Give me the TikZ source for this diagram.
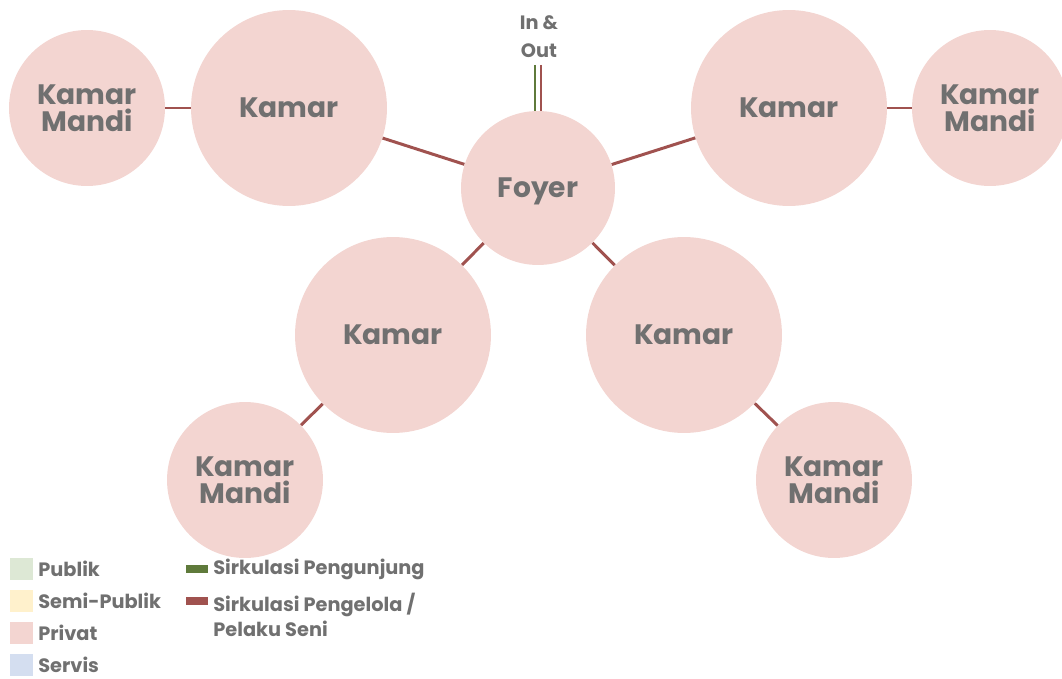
\documentclass[tikz,border=0pt]{standalone}
\usepackage{fontspec}
\setmainfont{Poppins}
\usepackage{tikz}
\definecolor{privat}{HTML}{F3D5D1}
\definecolor{publik}{HTML}{DDE8D5}
\definecolor{semipublik}{HTML}{FFF1CC}
\definecolor{servis}{HTML}{D4DEF0}
\definecolor{teks}{HTML}{707070}
\definecolor{pengelola}{HTML}{A0524F}
\definecolor{pengunjung}{HTML}{5F7A3B}
\tikzset{
  ruang/.style={circle,fill=privat,text=teks,font=\bfseries\fontsize{16}{15.5}\selectfont,align=center,inner sep=0pt},
  kamar/.style={ruang,minimum size=3.92cm},
  kmandi/.style={ruang,minimum size=3.12cm},
  alur/.style={pengelola,line width=1.7pt},
  ket/.style={text=teks,font=\bfseries\fontsize{11}{14}\selectfont,anchor=west,align=left,inner sep=0pt}
}
\begin{document}
\begin{tikzpicture}[x=0.02cm,y=-0.02cm]
\useasboundingbox (0,0) rectangle (1062,679);
% ruang
\node[ruang,minimum size=3.08cm,text depth=0pt] (foyer) at (538,188) {Foyer};
\node[kamar] (kamar1) at (289,108) {Kamar};
\node[kamar] (kamar2) at (789,108) {Kamar};
\node[kamar] (kamar3) at (393,335) {Kamar};
\node[kamar] (kamar4) at (684,335) {Kamar};
\node[kmandi] (km1) at (87,108) {Kamar\\Mandi};
\node[kmandi] (km2) at (990,108) {Kamar\\Mandi};
\node[kmandi] (km3) at (245,480) {Kamar\\Mandi};
\node[kmandi] (km4) at (834,480) {Kamar\\Mandi};
% sirkulasi
\draw[alur] (km1) -- (kamar1);
\draw[alur] (kamar1) -- (foyer);
\draw[alur] (foyer) -- (kamar2);
\draw[alur] (kamar2) -- (km2);
\draw[alur] (foyer) -- (kamar3);
\draw[alur] (foyer) -- (kamar4);
\draw[alur] (kamar3) -- (km3);
\draw[alur] (kamar4) -- (km4);
% in & out
\node[text=teks,font=\bfseries\fontsize{11}{16}\selectfont,align=center,inner sep=0pt] (inout) at (539,37) {In \&\\Out};
\coordinate (masuk) at (538,65);
\draw[pengunjung,line width=1.7pt] ([xshift=-0.06cm]masuk) -- ([xshift=-0.06cm]masuk |- foyer.north);
\draw[alur] ([xshift=0.06cm]masuk) -- ([xshift=0.06cm]masuk |- foyer.north);
% legenda
\foreach \warna/\nama [count=\i, evaluate=\i as \y using 569+32*(\i-1)] in {publik/Publik,semipublik/Semi-Publik,privat/Privat,servis/Servis} {
\node[fill=\warna,minimum width=0.46cm,minimum height=0.44cm,inner sep=0pt] (kotak\i) at (21.5,\y) {};
\node[ket] (label\i) at (38,\y) {\nama};
}
\coordinate (garis1) at (186,569);
\coordinate (garis2) at (186,601);
\draw[pengunjung,line width=4pt] (garis1) -- ++(22,0);
\draw[pengelola,line width=4pt] (garis2) -- ++(22,0);
\node[ket] (sirk1) at (213,569) {Sirkulasi Pengunjung};
\node[ket,anchor=north west] (sirk2) at (213,593) {Sirkulasi Pengelola /\\Pelaku Seni};
\end{tikzpicture}
\end{document}
